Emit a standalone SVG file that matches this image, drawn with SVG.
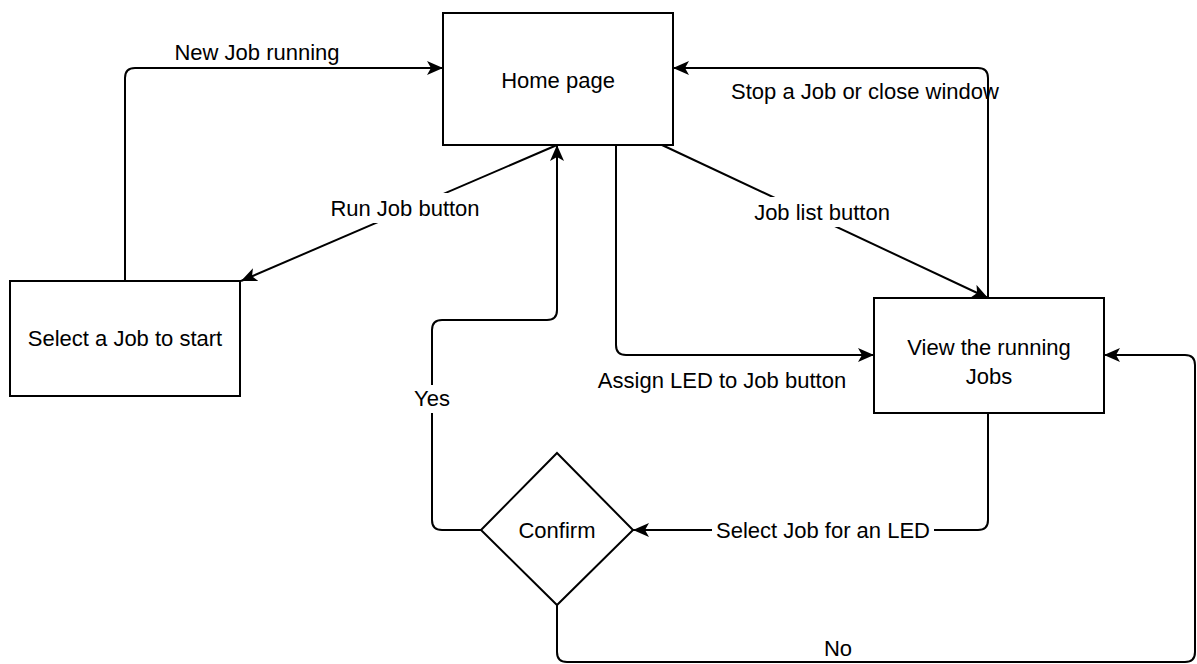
<svg xmlns="http://www.w3.org/2000/svg" width="1197" height="664" viewBox="0 0 1197 664">
  <style>
    .node { fill: #ffffff; stroke: #000000; stroke-width: 2; }
    .edge { fill: none; stroke: #000000; stroke-width: 2; marker-end: url(#arrow); }
    .label { font-family: "Liberation Sans", Arial, Helvetica, sans-serif; font-size: 22px; fill: #000000; text-anchor: middle; }
    .bg { fill: #ffffff; stroke: none; }
  </style>
  <defs>
    <marker id="arrow" viewBox="0 0 16 14" refX="16" refY="7" markerWidth="16" markerHeight="14" markerUnits="userSpaceOnUse" orient="auto">
      <path d="M0,0 L16,7 L0,14 L4,7 Z" fill="#000000"/>
    </marker>
  </defs>
  <rect width="1197" height="664" fill="#ffffff"/>

  <!-- connectors -->
  <g id="connectors">
    <!-- Select a Job to start -> Home page -->
    <path class="edge" d="M125,281 L125,78 Q125,68 135,68 L443,68"/>
    <!-- Home page -> Select a Job to start -->
    <path class="edge" d="M557,145 L241,281"/>
    <!-- Confirm -> Home page (Yes) -->
    <path class="edge" d="M481,530 L442,530 Q432,530 432,520 L432,330 Q432,320 442,320 L547,320 Q557,320 557,310 L557,145"/>
    <!-- Home page -> View the running Jobs (Assign LED) -->
    <path class="edge" d="M616,145 L616,345 Q616,355 626,355 L874,355"/>
    <!-- Home page -> View the running Jobs (Job list) -->
    <path class="edge" d="M662,145 L988,298"/>
    <!-- View the running Jobs -> Home page (Stop) -->
    <path class="edge" d="M988,298 L988,78 Q988,68 978,68 L673,68"/>
    <!-- View the running Jobs -> Confirm -->
    <path class="edge" d="M988,413 L988,520 Q988,530 978,530 L633,530"/>
    <!-- Confirm -> View the running Jobs (No) -->
    <path class="edge" d="M557,605 L557,652 Q557,662 567,662 L1185,662 Q1195,662 1195,652 L1195,365 Q1195,355 1185,355 L1104,355"/>

    <!-- edge labels -->
    <text class="label" x="257" y="60">New Job running</text>
    <rect class="bg" x="326" y="193" width="158" height="30"/>
    <text class="label" x="405" y="216">Run Job button</text>
    <rect class="bg" x="414" y="385" width="36" height="28"/>
    <text class="label" x="432" y="406">Yes</text>
    <text class="label" x="722" y="388">Assign LED to Job button</text>
    <rect class="bg" x="750" y="197" width="146" height="30"/>
    <text class="label" x="822" y="220">Job list button</text>
    <rect class="bg" x="752" y="78" width="226" height="28"/>
    <text class="label" x="865" y="99">Stop a Job or close window</text>
    <rect class="bg" x="712" y="516" width="222" height="28"/>
    <text class="label" x="823" y="538">Select Job for an LED</text>
    <text class="label" x="838" y="656">No</text>
  </g>

  <!-- nodes -->
  <g id="home-page">
    <rect class="node" x="443" y="13" width="230" height="132"/>
    <text class="label" x="558" y="88">Home page</text>
  </g>
  <g id="select-job">
    <rect class="node" x="10" y="281" width="230" height="115"/>
    <text class="label" x="125" y="346">Select a Job to start</text>
  </g>
  <g id="view-jobs">
    <rect class="node" x="874" y="298" width="230" height="115"/>
    <text class="label" x="989" y="355">View the running</text>
    <text class="label" x="989" y="384">Jobs</text>
  </g>
  <g id="confirm">
    <polygon class="node" points="557,453 633,530 557,605 481,530"/>
    <text class="label" x="557" y="538">Confirm</text>
  </g>
</svg>
